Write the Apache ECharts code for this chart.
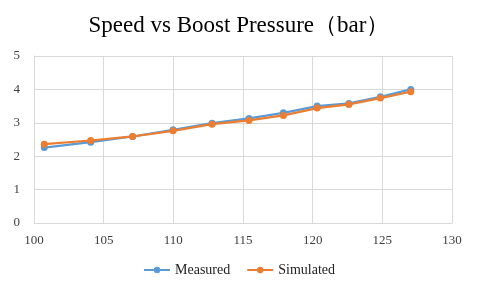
<!DOCTYPE html>
<html><head><meta charset="utf-8">
<script src="https://cdn.jsdelivr.net/npm/echarts@6/dist/echarts.min.js"></script>
<style>html,body{margin:0;padding:0;background:#fff}#c{width:478px;height:289px}</style>
</head><body><div id="c"></div>
<script>
const titleText = 'Speed vs Boost Pressure（bar）';
const speed = [100.74, 104.07, 107.08, 109.98, 112.78, 115.43, 117.9, 120.32, 122.6, 124.86, 127.04];
const measured = [2.26, 2.42, 2.59, 2.79, 2.99, 3.13, 3.30, 3.50, 3.58, 3.78, 4.0];
const simulated = [2.36, 2.47, 2.59, 2.76, 2.96, 3.07, 3.22, 3.44, 3.55, 3.74, 3.93];
const seriesNames = ['Measured', 'Simulated'];
const font = '"Liberation Serif","Times New Roman",serif';
const chart = echarts.init(document.getElementById('c'));
const pts = v => speed.map((x, i) => [x, v[i]]);
chart.setOption({
  animation: false,
  title: {text: titleText, left: 'center', top: 9,
    textStyle: {fontFamily: font, fontSize: 23, fontWeight: 'normal', color: '#000'}},
  legend: {bottom: 7, itemWidth: 26, itemHeight: 8, itemGap: 16,
    textStyle: {fontFamily: font, fontSize: 14, color: '#222'},
    data: seriesNames},
  grid: {left: 34, right: 26, top: 56, bottom: 66},
  xAxis: {type: 'value', min: 100, max: 130, interval: 5,
    axisLine: {show: true, lineStyle: {color: '#d9d9d9'}},
    axisTick: {show: false},
    splitLine: {show: true, lineStyle: {color: '#d9d9d9', width: 1}},
    axisLabel: {fontFamily: font, fontSize: 13, color: '#404040', margin: 11}},
  yAxis: {type: 'value', min: 0, max: 5, interval: 1,
    axisLine: {show: true, lineStyle: {color: '#d9d9d9'}},
    axisTick: {show: false},
    splitLine: {show: true, lineStyle: {color: '#d9d9d9', width: 1}},
    axisLabel: {fontFamily: font, fontSize: 13, color: '#404040', margin: 14}},
  series: [
    {name: seriesNames[0], type: 'line', data: pts(measured), symbol: 'circle', symbolSize: 7,
      itemStyle: {color: '#5b9bd5'}, lineStyle: {width: 2.25, color: '#5b9bd5'}},
    {name: seriesNames[1], type: 'line', data: pts(simulated), symbol: 'circle', symbolSize: 7,
      itemStyle: {color: '#ed7d31'}, lineStyle: {width: 2.25, color: '#ed7d31'}}
  ]
});
</script></body></html>
